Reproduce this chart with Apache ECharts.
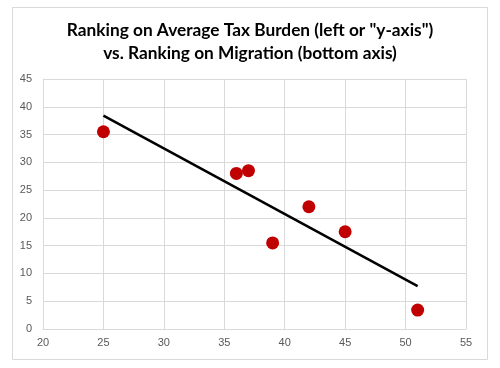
<!DOCTYPE html>
<html><head><meta charset="utf-8">
<script src="https://cdn.jsdelivr.net/npm/echarts@6/dist/echarts.min.js"></script>
<style>html,body{margin:0;padding:0;background:#fff}#c{width:500px;height:368px}</style>
</head><body><div id="c"></div>
<script>
const migrationRank = [25, 36, 37, 39, 42, 45, 51];
const taxBurdenRank = [35.5, 28, 28.5, 15.5, 22, 17.5, 3.4];
const trendX = [25, 51];
const trendY = [38.4, 7.7];
const titleLines = ['Ranking on Average Tax Burden (left or "y-axis")', 'vs. Ranking on Migration (bottom axis)'];

const chart = echarts.init(document.getElementById('c'), null, {renderer: 'canvas'});
const pts = migrationRank.map((x, i) => [x, taxBurdenRank[i]]);
const trend = trendX.map((x, i) => [x, trendY[i]]);
chart.setOption({
  animation: false,
  graphic: [{type: 'rect', shape: {x: 12.5, y: 7.5, width: 475, height: 352}, style: {fill: 'none', stroke: '#d9d9d9', lineWidth: 1}, silent: true}],
  title: {
    text: titleLines.join('\n'), left: 'center', top: 14,
    textStyle: {fontFamily: 'Lato', fontWeight: 'bold', fontSize: 17.3, color: '#000', lineHeight: 23}
  },
  grid: {left: 43, right: 34, top: 79, bottom: 39},
  xAxis: {
    type: 'value', min: 20, max: 55, interval: 5,
    axisLine: {show: true, lineStyle: {color: '#d9d9d9'}},
    axisTick: {show: false},
    axisLabel: {color: '#595959', fontSize: 11, fontFamily: 'Liberation Sans', margin: 8},
    splitLine: {show: true, lineStyle: {color: '#d9d9d9'}}
  },
  yAxis: {
    type: 'value', min: 0, max: 45, interval: 5,
    axisLine: {show: true, lineStyle: {color: '#d9d9d9'}},
    axisTick: {show: false},
    axisLabel: {color: '#595959', fontSize: 11, fontFamily: 'Liberation Sans', margin: 11},
    splitLine: {show: true, lineStyle: {color: '#d9d9d9'}}
  },
  series: [
    {type: 'line', data: trend, symbol: 'none', lineStyle: {color: '#000', width: 2.5}, z: 2},
    {type: 'scatter', data: pts, symbolSize: 13, itemStyle: {color: '#c00000', opacity: 1}, z: 3}
  ]
});
</script></body></html>
